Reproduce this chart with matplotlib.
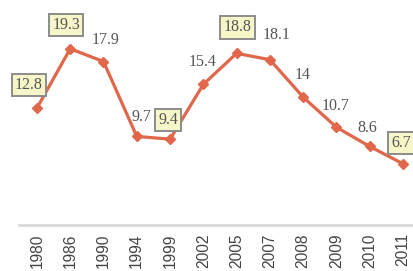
import numpy as np
import matplotlib
matplotlib.use("Agg")
import matplotlib.pyplot as plt

# data
years = ["1980", "1986", "1990", "1994", "1999", "2002",
         "2005", "2007", "2008", "2009", "2010", "2011"]
values = [12.8, 19.3, 17.9, 9.7, 9.4, 15.4, 18.8, 18.1, 14, 10.7, 8.6, 6.7]
boxed = [True, True, False, False, True, False,
         True, False, False, False, False, True]

# label offsets in pixels (dx, dy up)
offsets = [(-8, 23), (-4, 24), (2, 22), (5, 19), (-2, 19), (-1, 22),
           (1, 26), (7, 25), (-1, 22), (-1, 21), (-2, 18), (-2, 21)]

line_color = "#e0674a"

fig = plt.figure(figsize=(4.14, 2.71), dpi=100)
ax = fig.add_axes([0, 46 / 271, 1, 225 / 271])

x = np.arange(len(years))
ax.plot(x, values, color=line_color, lw=2.3, marker="D", ms=5,
        mec=line_color, mfc=line_color, zorder=3)

for i, v in enumerate(values):
    dx, dy = offsets[i]
    kw = dict(textcoords="offset points", ha="center", va="center",
              fontsize=11.5, family="Liberation Serif", color="#555555")
    if boxed[i]:
        kw["bbox"] = dict(boxstyle="square,pad=0.2", fc="#f6f6c8",
                          ec="#8c8c8c", lw=1.4)
    ax.annotate(f"{v:g}", (x[i], v), xytext=(dx * 0.72, dy * 0.72), **kw)

ax.set_xlim(-1.11, 11.33)
ax.set_ylim(0, 24.64)
ax.set_xticks(x)
ax.set_xticklabels(years, rotation=90, fontsize=11.2,
                   family="Liberation Sans", color="#444444", va="top")
ax.tick_params(axis="x", length=0, pad=6)
ax.set_yticks([])
for s in ["top", "left", "right"]:
    ax.spines[s].set_visible(False)
ax.spines["bottom"].set_color("#d9d9d9")
ax.spines["bottom"].set_linewidth(2)
ax.spines["bottom"].set_bounds(-0.55, 11.33)

fig.savefig("out.png", dpi=100)
